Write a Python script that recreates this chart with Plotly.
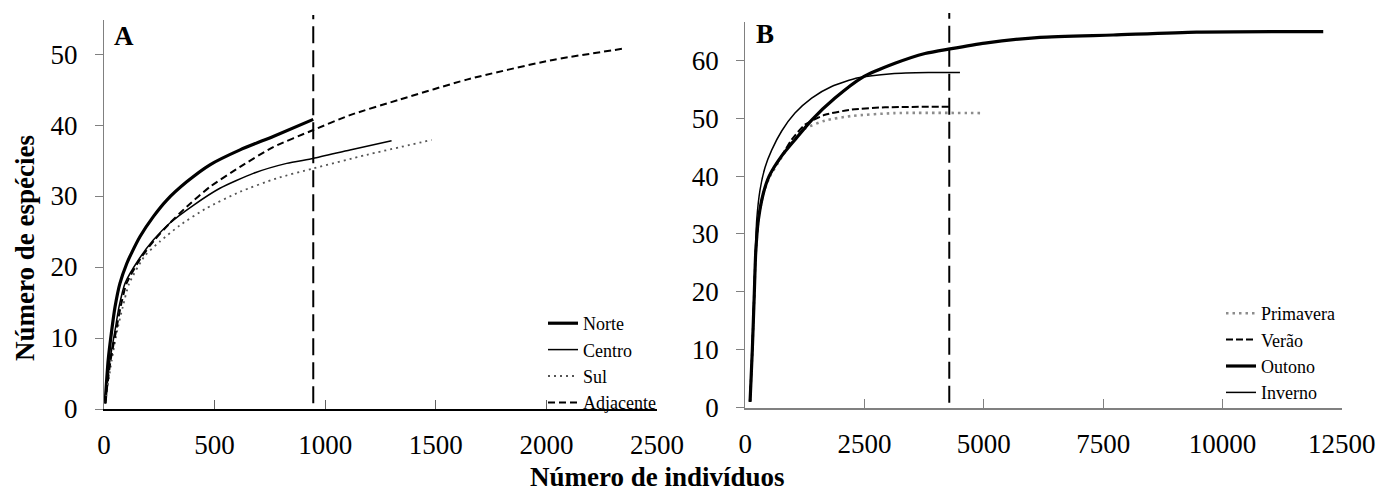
import plotly.graph_objects as go

# ---- Panel A: rarefaction curves by area ----
norte_x = [5, 19, 35, 50, 72, 103, 125, 163, 223, 283, 374, 479, 615, 765, 946]
norte_y = [0.8, 6.9, 11.1, 14.4, 17.7, 20.5, 22.0, 24.3, 27.1, 29.4, 32.0, 34.4, 36.5, 38.4, 40.8]

centro_x = [5, 27, 50, 68, 95, 160, 223, 298, 404, 524, 675, 826, 946, 1112, 1300]
centro_y = [0.8, 6.9, 11.1, 14.4, 17.7, 21.2, 23.8, 26.2, 28.7, 31.1, 33.2, 34.6, 35.3, 36.5, 37.8]

sul_x = [5, 35, 60, 85, 114, 185, 253, 344, 464, 615, 781, 946, 1187, 1481]
sul_y = [0.8, 6.9, 11.1, 14.4, 17.7, 21.6, 23.6, 25.9, 28.3, 30.6, 32.5, 33.9, 35.8, 37.9]

adj_x = [5, 30, 55, 75, 102, 165, 228, 298, 374, 479, 615, 765, 946, 1112, 1338, 1640, 2016, 2355]
adj_y = [0.8, 6.9, 11.1, 14.4, 17.7, 21.2, 23.8, 26.2, 28.5, 31.3, 34.1, 36.9, 39.3, 41.4, 43.6, 46.4, 49.1, 50.8]

# ---- Panel B: rarefaction curves by season ----
prim_x = [100, 147, 189, 218, 273, 377, 500, 763, 972, 1251, 1670, 2230, 3137, 4953]
prim_y = [1.0, 9.9, 19.8, 26.7, 32.4, 36.9, 39.7, 43.3, 45.8, 48.2, 49.6, 50.4, 50.9, 50.9]

verao_x = [100, 147, 189, 218, 273, 377, 500, 763, 972, 1251, 1670, 2230, 2928, 4275]
verao_y = [1.0, 9.9, 19.8, 26.7, 32.4, 37.0, 40.0, 43.5, 46.3, 48.9, 50.6, 51.5, 51.9, 52.0]

outono_x = [100, 147, 189, 218, 273, 377, 500, 763, 1041, 1391, 1880, 2439, 3137, 3766,
            4290, 5023, 6176, 7712, 9460, 12113]
outono_y = [1.0, 9.9, 19.8, 26.7, 32.4, 37.0, 40.0, 43.5, 46.3, 49.7, 53.5, 57.0, 59.5, 61.2,
            62.0, 63.0, 64.0, 64.4, 64.9, 65.0]

inverno_x = [100, 145, 185, 214, 239, 308, 413, 553, 763, 1041, 1391, 1810, 2369, 3068, 3835, 4499]
inverno_y = [1.0, 10.5, 20.5, 27.5, 32.4, 37.6, 41.5, 44.5, 47.8, 50.9, 53.5, 55.5, 57.0, 57.7, 57.9, 57.9]

# Axis settings
xa_range, xa_dtick = [0, 2500], 500
ya_range, ya_dtick = [0, 54.8], 10
xb_range, xb_dtick = [0, 12500], 2500
yb_range, yb_dtick = [0, 66.7], 10

# Reference cut-offs: smallest sample size in each panel
cut_a = norte_x[-1]
cut_b = verao_x[-1]
cut_a_y = [0.8, 55.5]
cut_b_y = [0.8, 68.2]

FONT = "Liberation Serif"
W, H = 1383, 491


def px_x(p):
    return p / W


def px_y(p):
    return (H - p) / H


dom_xa = [px_x(104), px_x(657)]
dom_ya = [px_y(409), px_y(20)]
dom_xb = [px_x(745.3), px_x(1341.7)]
dom_yb = [px_y(407.5), px_y(21.7)]

# slightly taller overlay domains so the cut-off lines can poke above the frame
dom_ya_ext = [dom_ya[0], px_y(12)]
dom_yb_ext = [dom_yb[0], px_y(10)]
ya_ext_max = ya_range[1] * (dom_ya_ext[1] - dom_ya_ext[0]) / (dom_ya[1] - dom_ya[0])
yb_ext_max = yb_range[1] * (dom_yb_ext[1] - dom_yb_ext[0]) / (dom_yb[1] - dom_yb[0])

fig = go.Figure()

spl = dict(shape="spline", smoothing=0.6)

# Panel A
fig.add_trace(go.Scatter(x=norte_x, y=norte_y, name="Norte", mode="lines",
                         line=dict(color="black", width=3.2, **spl),
                         xaxis="x", yaxis="y", legend="legend"))
fig.add_trace(go.Scatter(x=centro_x, y=centro_y, name="Centro", mode="lines",
                         line=dict(color="black", width=1.5, **spl),
                         xaxis="x", yaxis="y", legend="legend"))
fig.add_trace(go.Scatter(x=sul_x, y=sul_y, name="Sul", mode="lines",
                         line=dict(color="#555555", width=1.8, dash="2px,4px", **spl),
                         xaxis="x", yaxis="y", legend="legend"))
fig.add_trace(go.Scatter(x=adj_x, y=adj_y, name="Adjacente", mode="lines",
                         line=dict(color="black", width=2, dash="7px,4px", **spl),
                         xaxis="x", yaxis="y", legend="legend"))

# Panel B
fig.add_trace(go.Scatter(x=prim_x, y=prim_y, name="Primavera", mode="lines",
                         line=dict(color="#8c8c8c", width=2.6, dash="2.5px,4px", **spl),
                         xaxis="x2", yaxis="y2", legend="legend2"))
fig.add_trace(go.Scatter(x=verao_x, y=verao_y, name="Verão", mode="lines",
                         line=dict(color="black", width=2, dash="7px,3px", **spl),
                         xaxis="x2", yaxis="y2", legend="legend2"))
fig.add_trace(go.Scatter(x=outono_x, y=outono_y, name="Outono", mode="lines",
                         line=dict(color="black", width=3.2, **spl),
                         xaxis="x2", yaxis="y2", legend="legend2"))
fig.add_trace(go.Scatter(x=inverno_x, y=inverno_y, name="Inverno", mode="lines",
                         line=dict(color="black", width=1.5, **spl),
                         xaxis="x2", yaxis="y2", legend="legend2"))

# Cut-off lines
fig.add_trace(go.Scatter(x=[cut_a, cut_a], y=cut_a_y, mode="lines", showlegend=False,
                         line=dict(color="black", width=2, dash="17px,7px"),
                         xaxis="x3", yaxis="y3", hoverinfo="skip"))
fig.add_trace(go.Scatter(x=[cut_b, cut_b], y=cut_b_y, mode="lines", showlegend=False,
                         line=dict(color="black", width=2, dash="17px,7px"),
                         xaxis="x4", yaxis="y4", hoverinfo="skip"))

tickfont = dict(family=FONT, size=27, color="black")

xcommon = dict(showgrid=False, zeroline=False, showline=True, ticks="inside", ticklen=9,
               tickwidth=1, tickfont=tickfont, ticklabelstandoff=11, tickformat="d",
               automargin=False)
ycommon = dict(showgrid=False, zeroline=False, showline=True, ticks="outside", ticklen=8,
               tickwidth=1, tickcolor="#808080", linecolor="#808080", linewidth=1.2,
               tickfont=tickfont, ticklabelstandoff=12, automargin=False)
hidden = dict(visible=False, automargin=False, showgrid=False, zeroline=False)

legend_font = dict(family=FONT, size=18, color="black")

fig.update_layout(
    width=W, height=H,
    margin=dict(l=0, r=0, t=0, b=0, autoexpand=False),
    paper_bgcolor="white", plot_bgcolor="rgba(0,0,0,0)",
    font=dict(family=FONT, color="black"),
    xaxis=dict(domain=dom_xa, range=xa_range, dtick=xa_dtick, anchor="y",
               linecolor="black", linewidth=1.5, tickcolor="#606060", **xcommon),
    yaxis=dict(domain=dom_ya, range=ya_range, dtick=ya_dtick, anchor="x", **ycommon),
    xaxis2=dict(domain=dom_xb, range=xb_range, dtick=xb_dtick, anchor="y2",
                linecolor="#808080", linewidth=1.8, tickcolor="#808080", **xcommon),
    yaxis2=dict(domain=dom_yb, range=yb_range, dtick=yb_dtick, anchor="x2", **ycommon),
    xaxis3=dict(domain=dom_xa, range=xa_range, anchor="y3", **hidden),
    yaxis3=dict(domain=dom_ya_ext, range=[0, ya_ext_max], anchor="x3", **hidden),
    xaxis4=dict(domain=dom_xb, range=xb_range, anchor="y4", **hidden),
    yaxis4=dict(domain=dom_yb_ext, range=[0, yb_ext_max], anchor="x4", **hidden),
    legend=dict(x=px_x(543), y=px_y(305), xanchor="left", yanchor="top",
                bgcolor="rgba(0,0,0,0)", borderwidth=0, itemwidth=30, tracegroupgap=0,
                font=legend_font),
    legend2=dict(x=px_x(1221), y=px_y(295), xanchor="left", yanchor="top",
                 bgcolor="rgba(0,0,0,0)", borderwidth=0, itemwidth=30, tracegroupgap=0,
                 font=legend_font),
    showlegend=True,
)

ann = dict(xref="paper", yref="paper", showarrow=False, xanchor="center", yanchor="middle")
fig.add_annotation(text="<b>A</b>", x=px_x(124), y=px_y(36),
                   font=dict(family=FONT, size=27, color="black"), **ann)
fig.add_annotation(text="<b>B</b>", x=px_x(765), y=px_y(34),
                   font=dict(family=FONT, size=27, color="black"), **ann)
fig.add_annotation(text="<b>Número de indivíduos</b>", x=px_x(657), y=px_y(477),
                   font=dict(family=FONT, size=27, color="black"), **ann)
fig.add_annotation(text="<b>Número de espécies</b>", x=px_x(25), y=px_y(248), textangle=-90,
                   font=dict(family=FONT, size=27, color="black"), **ann)

fig.write_html("out.html")
